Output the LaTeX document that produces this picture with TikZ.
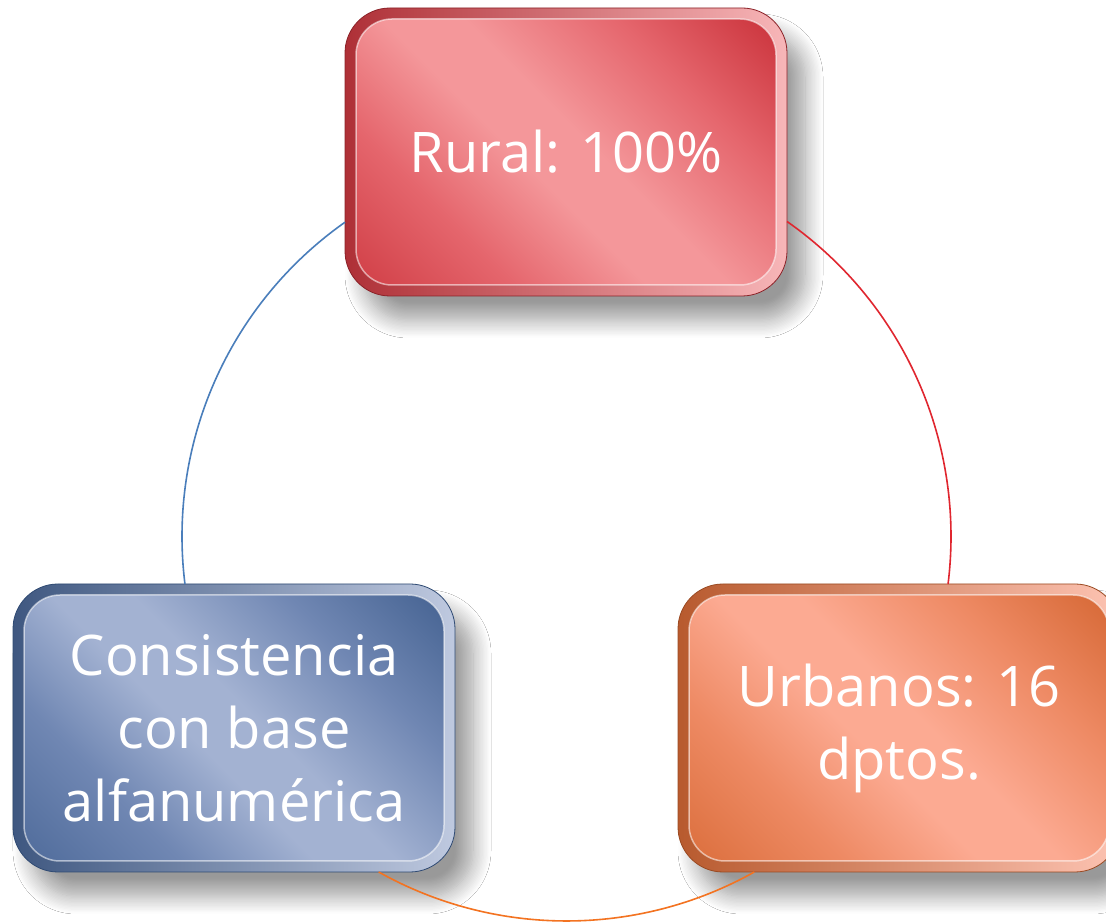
\documentclass[tikz,border=0pt]{standalone}
\usepackage{fontspec}
\setmainfont{Open Sans}
\usetikzlibrary{shadows.blur}
\definecolor{rdark}{HTML}{C4262F}
\definecolor{rdark2}{HTML}{CD3840}
\definecolor{rmid}{HTML}{E5666D}
\definecolor{rlight}{HTML}{F4979A}
\definecolor{rline}{HTML}{8B2228}
\definecolor{bdark}{HTML}{3B5A8A}
\definecolor{bdark2}{HTML}{4A6797}
\definecolor{bmid}{HTML}{7087B3}
\definecolor{blight}{HTML}{A3B2D2}
\definecolor{bline}{HTML}{2F4A73}
\definecolor{odark}{HTML}{D0602A}
\definecolor{odark2}{HTML}{D86A36}
\definecolor{omid}{HTML}{EE8A64}
\definecolor{olight}{HTML}{FCAA92}
\definecolor{oline}{HTML}{9A4A22}
\definecolor{arcblue}{HTML}{4A7EBB}
\definecolor{arcred}{HTML}{E0262F}
\definecolor{arcorange}{HTML}{F37321}
\pgfdeclareverticalshading{redglow}{100bp}{color(0bp)=(rdark2); color(14bp)=(rdark2); color(32bp)=(rmid); color(45bp)=(rlight); color(53bp)=(rlight); color(68bp)=(rmid); color(87bp)=(rdark); color(100bp)=(rdark)}
\pgfdeclareverticalshading{blueglow}{100bp}{color(0bp)=(bdark2); color(14bp)=(bdark2); color(32bp)=(bmid); color(45bp)=(blight); color(53bp)=(blight); color(68bp)=(bmid); color(87bp)=(bdark); color(100bp)=(bdark)}
\pgfdeclareverticalshading{orangeglow}{100bp}{color(0bp)=(odark2); color(14bp)=(odark2); color(32bp)=(omid); color(45bp)=(olight); color(53bp)=(olight); color(68bp)=(omid); color(87bp)=(odark); color(100bp)=(odark)}
\tikzset{
  box/.style={minimum width=442pt, minimum height=288pt, rounded corners=45pt,
    text=white, align=center, inner sep=0pt, line width=0.8pt,
    font=\fontsize{56}{73}\selectfont,
    blur shadow={shadow xshift=18pt, shadow yshift=-24pt, shadow blur radius=18pt,
      shadow opacity=40, shadow blur steps=14}},
  innerrim/.style={path picture={
    \shadedraw[rounded corners=36pt, shading=#1, shading angle=-45,
      draw=white, draw opacity=0.55, line width=1.5pt]
      ([shift={(11pt,11pt)}]path picture bounding box.south west) rectangle
      ([shift={(-11pt,-11pt)}]path picture bounding box.north east);}},
  redbox/.style={box, draw=rline, left color=rdark2!85!black, right color=rlight!70!white,
    innerrim=redglow},
  bluebox/.style={box, draw=bline, left color=bdark2!85!black, right color=blight!70!white,
    innerrim=blueglow},
  orangebox/.style={box, draw=oline, left color=odark2!85!black, right color=olight!70!white,
    innerrim=orangeglow},
  arcline/.style={line width=1.6pt}
}
\begin{document}
\begin{tikzpicture}[x=1pt,y=1pt]
\clip (0,0) rectangle (1106,923);
\fill[white] (0,0) rectangle (1106,923);
\coordinate (c) at (566.5,386.5);
\node[redbox] (rural) at (566,771) {Rural: 100\%};
\node[bluebox] (consist) at (234,195) {Consistencia\\con base\\alfanumérica};
\node[orangebox] (urban) at (899,195) {Urbanos: 16\\dptos.};
\draw[arcline, arcblue] ([shift={(125.17:384.5)}]c) arc[start angle=125.17, end angle=187.1, radius=384.5];
\draw[arcline, arcred] ([shift={(55.0:384.5)}]c) arc[start angle=55.0, end angle=-7.1, radius=384.5];
\draw[arcline, arcorange] ([shift={(-60.76:384.5)}]c) arc[start angle=-60.76, end angle=-119.24, radius=384.5];
\end{tikzpicture}
\end{document}
